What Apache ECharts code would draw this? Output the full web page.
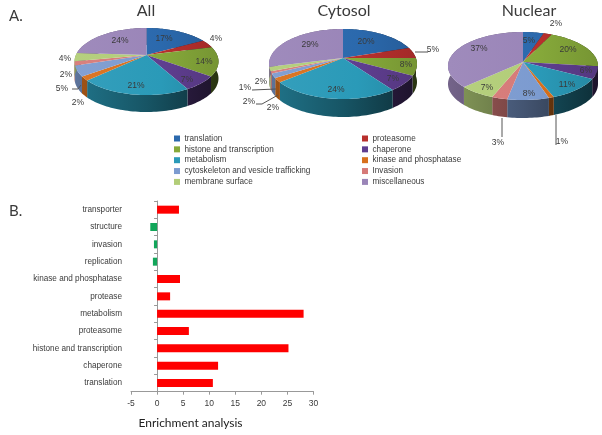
<!DOCTYPE html>
<html>
<head>
<meta charset="utf-8">
<script src="https://cdn.jsdelivr.net/npm/echarts@6/dist/echarts.min.js"></script>
<style>html,body{margin:0;padding:0;background:#fff}#c{width:602px;height:435px}</style>
</head>
<body>
<div id="c"></div>
<script>
// ---- data ----
const pieCategories = ['translation','proteasome','histone and transcription','chaperone','metabolism','kinase and phosphatase','cytoskeleton and vesicle trafficking','Invasion','membrane surface','miscellaneous'];
const pieTitles = ['All','Cytosol','Nuclear'];
const allPct     = [17,4,14,7,21,2,5,2,4,24];
const cytosolPct = [20,5,8,7,24,2,2,1,2,29];
const nuclearPct = [5,2,20,6,11,1,8,3,7,37];
const barCategories = ['translation','chaperone','histone and transcription','proteasome','metabolism','protease','kinase and phosphatase','replication','invasion','structure','transporter'];
const barValues = [10.7,11.7,25.2,6.1,28.1,2.5,4.4,-0.8,-0.6,-1.3,4.2];
const xTicks = {min:-5,max:30,interval:5};

// ---- styles & layout ----
const pieColors = ['#2b69ad','#b8302d','#86a93a','#5f3e90','#2a9ab8','#d8701c','#7c9bd0','#d67a78','#b2cd78','#9a85b8'];
const pieGeom = [
  {cx:146.5,cy:55,top:27,bottom:40,half:72,depth:17},
  {cx:343,cy:58,top:29,bottom:41,half:74,depth:18},
  {cx:523,cy:62,top:30,bottom:38,half:75,depth:18}
];
const pieSets = [allPct,cytosolPct,nuclearPct];
const labelSpots = [
  [[164,39],[216,39],[204,62],[187,80],[136,86],[78,103],[62,89],[66,75],[65,59],[120,41]],
  [[366,42],[433,50],[406,65],[393,79],[336,90],[273,108],[249,102],[245,88],[261,82],[310,45]],
  [[529,41],[556,24],[568,50],[586,71],[567,85],[562,142],[529,94],[498,143],[487,88],[479,49]]
];
const leaders = [
  [[[72,89],[78,89],[81,85]]],
  [[[415,52],[428,52]],[[252,90],[276,89]],[[256,104],[262,104],[278,95]]],
  [[[502,118],[502,137]],[[556,115],[556,145]]]
];
const TXT = '#3a3a3a', FONT = '"Liberation Sans", sans-serif', TITLE = 'Lato, sans-serif';

function shade(hex, f){
  const n = parseInt(hex.slice(1),16);
  const c = [n>>16,(n>>8)&255,n&255].map(v=>Math.max(0,Math.min(255,Math.round(f>1?v+(255-v)*(f-1):v*f))));
  return `rgb(${c[0]},${c[1]},${c[2]})`;
}
function rimPoint(g, theta){
  const k = (g.bottom-g.top)/(g.bottom+g.top);
  const B = g.top*(1+k), A = g.half*Math.sqrt(1-k*k);
  const u = Math.sin(theta), v = -Math.cos(theta), s = 1/(1-k*v);
  return [g.cx+A*u*s, g.cy+B*v*s];
}
function renderSlice(params, api){
  const pie = api.value(0), val = api.value(1), cat = params.seriesIndex;
  const set = pieSets[pie], g = pieGeom[pie];
  const total = set.reduce((a,b)=>a+b,0);
  const before = set.slice(0,cat).reduce((a,b)=>a+b,0);
  const a0 = before/total*2*Math.PI, a1 = (before+val)/total*2*Math.PI;
  const n = Math.max(2,Math.ceil((a1-a0)/0.03));
  const rim = [];
  for(let i=0;i<=n;i++) rim.push(rimPoint(g,a0+(a1-a0)*i/n));
  const base = pieColors[cat];
  const grad = (stops)=>({type:'linear',x:g.cx-g.half,y:0,x2:g.cx+g.half,y2:0,global:true,
    colorStops:stops.map(([o,f])=>({offset:o,color:shade(base,f)}))});
  const wall = rim.concat(rim.slice().reverse().map(p=>[p[0],p[1]+g.depth]));
  const [lx,ly] = labelSpots[pie][cat];
  return {type:'group',children:[
    {type:'polygon',z2:1,shape:{points:wall},style:{fill:grad([[0,0.75],[0.5,0.55],[1,0.3]]),stroke:null}},
    {type:'polygon',z2:2,shape:{points:[[g.cx,g.cy]].concat(rim)},style:{fill:grad([[0,1.05],[0.6,1],[1,0.88]]),stroke:null}},
    {type:'text',z2:5,x:lx,y:ly,style:{text:val+'%',fill:TXT,font:'8.5px '+FONT,align:'center',verticalAlign:'middle'}}
  ]};
}
function renderLeader(params, api){
  const pts = leaders[api.value(0)][api.value(1)];
  return {type:'polyline',z2:6,shape:{points:pts},style:{stroke:'#555',lineWidth:1,fill:null}};
}

const sliceSeries = pieCategories.map((name,c)=>({
  type:'custom',name,coordinateSystem:'none',silent:true,
  itemStyle:{color:pieColors[c]},
  data:pieSets.map((set,p)=>[p,set[c]]),
  renderItem:renderSlice
}));
const leaderSeries = {
  type:'custom',name:'leaders',coordinateSystem:'none',silent:true,
  data:leaders.flatMap((ls,p)=>ls.map((_,i)=>[p,i])),
  renderItem:renderLeader
};
const barSeries = {
  type:'bar',name:'Enrichment',xAxisIndex:0,yAxisIndex:0,barWidth:8,silent:true,
  data:barValues,
  itemStyle:{color:p=>p.value<0?'#12a65a':'#ff0000'}
};
const legendBase = {orient:'vertical',icon:'rect',itemWidth:6,itemHeight:6,itemGap:2.85,padding:0,
  selectedMode:false,textStyle:{fontSize:8.2,fontFamily:FONT,color:TXT,padding:[0,0,0,-0.5]}};

const chart = echarts.init(document.getElementById('c'),null,{renderer:'canvas'});
chart.setOption({
  animation:false,
  backgroundColor:'#fff',
  title:[
    {text:'A.',left:4,top:4,textStyle:{fontSize:15,fontWeight:'normal',fontFamily:TITLE,color:TXT}},
    {text:'B.',left:4,top:199,textStyle:{fontSize:15,fontWeight:'normal',fontFamily:TITLE,color:TXT}},
    ...pieTitles.map((t,i)=>({text:t,left:[146,344,529][i],top:3,textAlign:'center',padding:0,
      textStyle:{fontSize:16,fontWeight:'normal',fontFamily:TITLE,color:TXT}})),
    {text:'Enrichment analysis',left:190.5,top:417,textAlign:'center',padding:0,
      textStyle:{fontSize:12,fontWeight:'normal',fontFamily:TITLE,color:'#222'}}
  ],
  legend:[
    {...legendBase,left:174,top:134.5,data:pieCategories.filter((_,i)=>i%2===0)},
    {...legendBase,left:362,top:134.5,data:pieCategories.filter((_,i)=>i%2===1)}
  ],
  grid:{left:131,right:288.5,top:201,height:190.7,containLabel:false},
  xAxis:{type:'value',min:xTicks.min,max:xTicks.max,interval:xTicks.interval,splitLine:{show:false},
    axisLine:{show:true,lineStyle:{color:'#999'}},axisTick:{show:true,length:3,lineStyle:{color:'#999'}},
    axisLabel:{fontSize:8.5,fontFamily:FONT,color:TXT,margin:7}},
  yAxis:[
    {type:'category',data:barCategories,position:'left',axisLine:{show:false,onZero:false},axisTick:{show:false},
      axisLabel:{fontSize:8.2,fontFamily:FONT,color:TXT,margin:9}},
    {type:'category',data:barCategories,position:'left',axisLine:{show:true,onZero:true,lineStyle:{color:'#999'}},
      axisTick:{show:true,length:3,lineStyle:{color:'#999'}},axisLabel:{show:false}}
  ],
  series:[...sliceSeries,leaderSeries,barSeries]
});
</script>
</body>
</html>
